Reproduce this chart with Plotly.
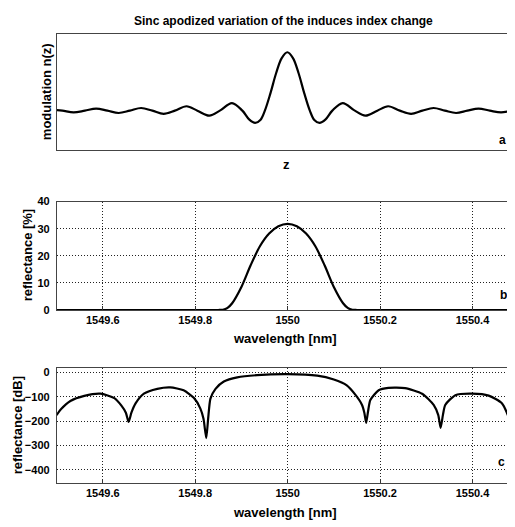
import plotly.graph_objects as go

# page body has an 8px default margin: the figure is drawn 8px in from the window corner
OFF = 8
W, H = 515 - OFF, 527 - OFF

# ---------------- data ----------------
# panel a : sinc apodization profile (z in lobe units, n normalised)
a_z = [-10.3, -10.0, -9.5, -9.0, -8.5, -8.0, -7.5, -7.0, -6.5, -6.0, -5.5, -5.0,
       -4.48, -4.0, -3.47, -3.0, -2.46, -2.0, -1.7, -1.43, -1.2, -1.0, -0.75, -0.5,
       -0.25, 0.0, 0.25, 0.5, 0.75, 1.0, 1.2, 1.43, 1.7, 2.0, 2.46, 3.0, 3.47, 4.0,
       4.48, 5.0, 5.5, 6.0, 6.5, 7.0, 7.5, 8.0, 8.5, 9.0, 9.5, 10.0, 10.3]
a_n = [0.01, 0.0, -0.03, 0.0, 0.035, 0.0, -0.04, 0.0, 0.045, 0.0, -0.055, 0.0,
       0.075, 0.0, -0.085, 0.0, 0.13, 0.0, -0.15, -0.21, -0.16, 0.0, 0.30, 0.64,
       0.90, 1.0, 0.90, 0.64, 0.30, 0.0, -0.16, -0.21, -0.15, 0.0, 0.13, 0.0, -0.085, 0.0,
       0.075, 0.0, -0.055, 0.0, 0.045, 0.0, -0.04, 0.0, 0.035, 0.0, -0.03, 0.0, 0.01]

# panel b : reflectance [%]
b_wl = [1549.50, 1549.70, 1549.84, 1549.85, 1549.86, 1549.87, 1549.88, 1549.90,
        1549.92, 1549.94, 1549.96, 1549.98, 1550.00, 1550.02, 1550.04, 1550.06,
        1550.08, 1550.10, 1550.12, 1550.13, 1550.14, 1550.15, 1550.16, 1550.30, 1550.50]
b_r = [0.0, 0.0, 0.0, 0.0, 0.1, 0.8, 2.5, 8.5,
       16.5, 23.5, 28.2, 30.9, 31.8, 30.9, 28.2, 23.5,
       16.5, 8.5, 2.5, 0.8, 0.1, 0.0, 0.0, 0.0, 0.0]

# panel c : reflectance [dB]
c_wl = [1549.500, 1549.510, 1549.530, 1549.560, 1549.595, 1549.625, 1549.640, 1549.650,
        1549.656, 1549.662, 1549.671, 1549.689, 1549.718, 1549.746, 1549.775, 1549.797,
        1549.811, 1549.818, 1549.824, 1549.828, 1549.833, 1549.844, 1549.862, 1549.891,
        1549.934, 1550.000, 1550.064, 1550.100, 1550.128, 1550.146, 1550.161, 1550.166,
        1550.170, 1550.174, 1550.179, 1550.197, 1550.218, 1550.254, 1550.291, 1550.316,
        1550.326, 1550.331, 1550.336, 1550.341, 1550.363, 1550.399, 1550.435, 1550.464,
        1550.482, 1550.489]
c_db = [-175, -150, -117, -96, -87, -105, -135, -165,
        -203, -165, -127, -87, -67, -61, -73, -104,
        -147, -190, -269, -190, -107, -67, -37, -20,
        -11, -7, -13, -29, -53, -90, -133, -165,
        -207, -160, -113, -73, -63, -64, -87, -133,
        -175, -227, -175, -133, -93, -87, -95, -127,
        -207, -407]

wl_ticks = [1549.6, 1549.8, 1550.0, 1550.2, 1550.4]
wl_ticktext = ["1549.6", "1549.8", "1550", "1550.2", "1550.4"]
b_yticks = [0, 10, 20, 30, 40]
c_yticks = [-400, -300, -200, -100, 0]

# ---------------- layout helpers ----------------
FONT = "Liberation Sans, Arial, Helvetica, sans-serif"
LINE = dict(color="black", width=2.2)


def ypx(top, bottom):
    return [1 - (bottom - OFF) / H, 1 - (top - OFF) / H]


XDOM = [(57 - OFF) / W, 1.0]

fig = go.Figure()
fig.add_trace(go.Scatter(x=a_z, y=a_n, mode="lines", line=dict(shape="spline", smoothing=1.0, **LINE),
                         xaxis="x", yaxis="y", showlegend=False, hoverinfo="skip"))
fig.add_trace(go.Scatter(x=b_wl, y=b_r, mode="lines", line=dict(shape="spline", smoothing=0.8, **LINE),
                         xaxis="x2", yaxis="y2", showlegend=False, hoverinfo="skip"))
fig.add_trace(go.Scatter(x=c_wl, y=c_db, mode="lines", line=dict(shape="spline", smoothing=0.6, **LINE),
                         xaxis="x3", yaxis="y3", showlegend=False, hoverinfo="skip"))

frame = dict(showline=True, linecolor="#444", linewidth=1.3, zeroline=False)
grid = dict(showgrid=True, gridcolor="#222", griddash="1px,2px", gridwidth=1)
tickf = dict(family=FONT, size=11, color="black", weight="bold")

fig.update_layout(
    width=W, height=H,
    margin=dict(l=0, r=0, t=0, b=0),
    paper_bgcolor="white", plot_bgcolor="white",
    xaxis=dict(domain=XDOM, anchor="y", range=[-10.24, 10.12], showticklabels=False,
               ticks="", showgrid=False, mirror=True, **frame),
    yaxis=dict(domain=ypx(28, 147), anchor="x", range=[-0.67, 1.32], showticklabels=False,
               ticks="", showgrid=False, **frame),
    xaxis2=dict(domain=XDOM, anchor="y2", range=[1549.501, 1550.492], tickvals=wl_ticks,
                ticktext=wl_ticktext, ticks="inside", ticklen=4, tickcolor="#333",
                tickfont=tickf, mirror=True, **frame, **grid),
    yaxis2=dict(domain=ypx(200, 311), anchor="x2", range=[0, 40], tickvals=b_yticks,
                ticks="", tickfont=tickf, ticklabelstandoff=4, **frame, **grid),
    xaxis3=dict(domain=XDOM, anchor="y3", range=[1549.501, 1550.492], tickvals=wl_ticks,
                ticktext=wl_ticktext, ticks="inside", ticklen=4, tickcolor="#333",
                tickfont=tickf, mirror=True, **frame, **grid),
    yaxis3=dict(domain=ypx(370, 488), anchor="x3", range=[-453, 20], tickvals=c_yticks,
                ticks="", tickfont=tickf, ticklabelstandoff=4, **frame, **grid),
)


def ann(text, px, py, size=13, angle=0):
    fig.add_annotation(text=text, x=(px - OFF) / W, y=1 - (py - OFF) / H,
                       xref="paper", yref="paper",
                       showarrow=False, textangle=angle, xanchor="center", yanchor="middle",
                       font=dict(family=FONT, size=size, color="black", weight="bold"))


ann("Sinc apodized variation of the induces index change", 283, 15, size=12)
ann("modulation n(z)", 46, 88, size=13, angle=-90)
ann("z", 286, 162, size=13)
ann("a", 502, 137, size=12)
ann("reflectance [%]", 27, 255, size=13, angle=-90)
ann("wavelength [nm]", 285, 340, size=13)
ann("b", 503, 296, size=12)
ann("reflectance [dB]", 17, 429, size=13, angle=-90)
ann("wavelength [nm]", 285, 518, size=13)
ann("c", 501, 467, size=12)

fig.write_html("out.html")
